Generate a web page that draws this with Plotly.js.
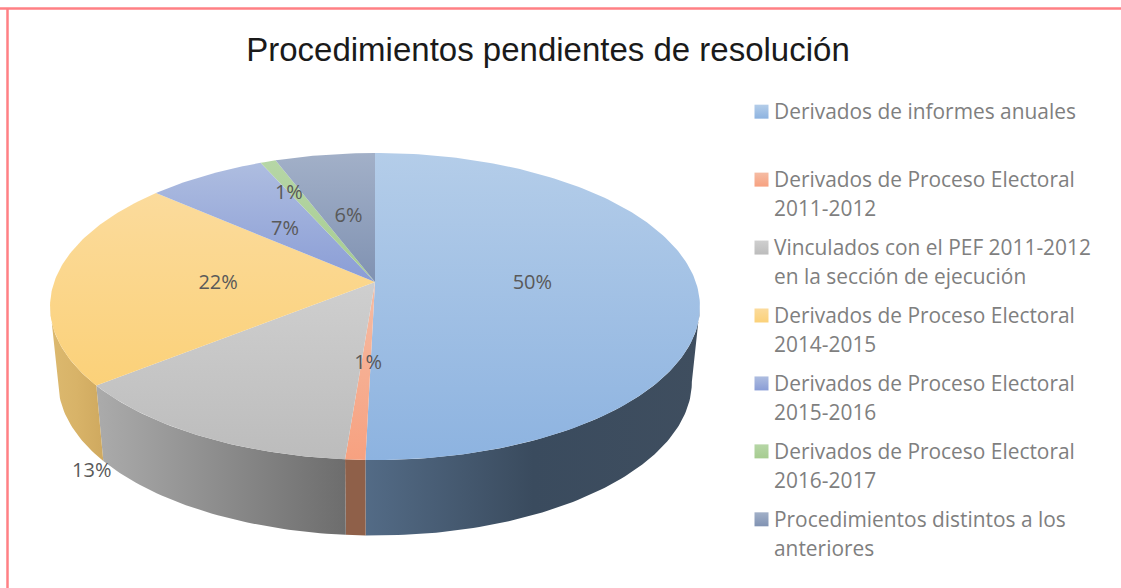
<!DOCTYPE html>
<html><head><meta charset="utf-8">
<script src="https://cdn.plot.ly/plotly-3.0.1.min.js"></script>
<style>html,body{margin:0;padding:0;background:#fff}#c{width:1121px;height:588px}</style>
</head><body><div id="c"></div>
<script>
const categories = [
  "Derivados de informes anuales<br>&nbsp;",
  "Derivados de Proceso Electoral<br>2011-2012",
  "Vinculados con el PEF 2011-2012<br>en la sección de ejecución",
  "Derivados de Proceso Electoral<br>2014-2015",
  "Derivados de Proceso Electoral<br>2015-2016",
  "Derivados de Proceso Electoral<br>2016-2017",
  "Procedimientos distintos a los<br>anteriores"
];
const values = [50.4, 0.85, 13.05, 22.1, 6.9, 0.9, 5.8];
const topLight = ["#b4cde9","#f5bca4","#cfcfcf","#fbdb9c","#aebde0","#b6d6a6","#a2b0c8"];
const topDark  = ["#8db3e0","#f7a180","#bcbcbc","#fbd179","#8a9dd6","#a6cc90","#8092b2"];
const wallStops = [
  ["#536b86","#3a4b5e","#3f4e5f"],
  ["#8f6049","#8f6049","#8f6049"],
  ["#ababab","#8c8c8c","#6d6d6d"],
  ["#dcb96f","#d8b368","#cfa95f"],
  ["#7f8fb5","#7f8fb5","#7f8fb5"],
  ["#8aa37a","#8aa37a","#8aa37a"],
  ["#7a8aa5","#7a8aa5","#7a8aa5"]
];
const labelShift = [[0,1],[2,3],[-204,120],[0,4],[-2,3],[-30,-25],[0,2]];

// projection of the tilted pie
const CX=375, CY=282, A=320.8, B=149.6, K=0.1596, DEPTH=75.5, SHRINK=0.975, LABEL_R=0.49;
const VIS0=Math.acos(-K)/(2*Math.PI), VIS1=1-VIS0;
function proj(frac, r){
  const t=2*Math.PI*frac, u=r*Math.sin(t), v=r*Math.cos(t), w=1+K*v;
  return [CX+A*u/w, CY-B*v/w];
}
function arc(a,b){
  const n=Math.max(4,Math.ceil((b-a)*360)), out=[];
  for(let j=0;j<=n;j++) out.push(proj(a+(b-a)*j/n,1));
  return out;
}
const total=values.reduce((p,q)=>p+q,0);
const walls=[], tops=[], labX=[], labY=[], labT=[];
let cum=0;
values.forEach((val,i)=>{
  const a=cum/total, b=(cum+val)/total; cum+=val;
  const va=Math.max(a,VIS0), vb=Math.min(b,VIS1);
  if(vb>va){
    const rim=arc(va,vb);
    const low=rim.map(p=>[CX+(p[0]-CX)*SHRINK,p[1]+DEPTH]).reverse();
    const wall=rim.concat(low,[rim[0]]);
    const s=wallStops[i];
    walls.push({type:"scatter",mode:"lines",x:wall.map(p=>p[0]),y:wall.map(p=>p[1]),
      fill:"toself",fillgradient:{type:"horizontal",colorscale:[[0,s[0]],[0.5,s[1]],[1,s[2]]]},
      line:{width:0},hoverinfo:"skip",showlegend:false});
  }
  const poly=[[CX,CY]].concat(arc(a,b),[[CX,CY]]);
  tops.push({type:"scatter",mode:"lines",x:poly.map(p=>p[0]),y:poly.map(p=>p[1]),
    fill:"toself",fillgradient:{type:"vertical",colorscale:[[0,topDark[i]],[1,topLight[i]]]},
    line:{width:0},hoverinfo:"skip",showlegend:false});
  const m=proj((a+b)/2,LABEL_R);
  labX.push(m[0]+labelShift[i][0]); labY.push(m[1]+labelShift[i][1]);
  labT.push(Math.round(val/total*100)+"%");
});
const labelsTrace={type:"scatter",mode:"text",x:labX,y:labY,text:labT,textposition:"middle center",
  textfont:{family:"Open Sans",size:20,color:"#595959"},hoverinfo:"skip",showlegend:false,cliponaxis:false};
const legendTraces=categories.map((c,i)=>({type:"scatter",mode:"markers",x:[null],y:[null],name:c,
  legendgroup:"g"+i,showlegend:true,hoverinfo:"skip",
  marker:{symbol:"square",size:14,color:topLight[i],gradient:{type:"vertical",color:topDark[i]},line:{width:0}}}));

const layout={
  width:1121,height:588,margin:{l:0,r:0,t:0,b:0},paper_bgcolor:"#fff",plot_bgcolor:"#fff",
  xaxis:{range:[0,1121],visible:false,fixedrange:true},
  yaxis:{range:[588,0],visible:false,fixedrange:true},
  title:{text:"Procedimientos pendientes de resolución",x:548/1121,xanchor:"center",y:1-49/588,yanchor:"middle",
    font:{family:"Liberation Sans",size:33,color:"#1a1a1a"}},
  legend:{x:734/1121,y:1-91/588,xanchor:"left",yanchor:"top",bgcolor:"rgba(0,0,0,0)",
    font:{family:"Open Sans",size:20.9,color:"#7f7f7f"},tracegroupgap:10.6,traceorder:"grouped",
    itemclick:false,itemdoubleclick:false},
  shapes:[
    {type:"line",xref:"x",yref:"y",x0:0,x1:1121,y0:8.5,y1:8.5,line:{color:"#ff8085",width:2.5}},
    {type:"line",xref:"x",yref:"y",x0:7.5,x1:7.5,y0:8,y1:588,line:{color:"#ff8085",width:2.5}}
  ],
  showlegend:true
};
Plotly.newPlot("c",walls.concat(tops,[labelsTrace],legendTraces),layout,{displayModeBar:false}).then(gd=>{
  const nudge=()=>{
    document.querySelectorAll("#c .legend .legendsymbols").forEach(n=>n.setAttribute("transform","translate(7.5,-13)"));
    document.querySelectorAll("#c .legendtext tspan.line").forEach(n=>{
      const dy=n.getAttribute("dy"); if(dy && parseFloat(dy)>0) n.setAttribute("dy","29px");
    });
  };
  nudge();gd.on("plotly_afterplot",nudge);
});
</script></body></html>
